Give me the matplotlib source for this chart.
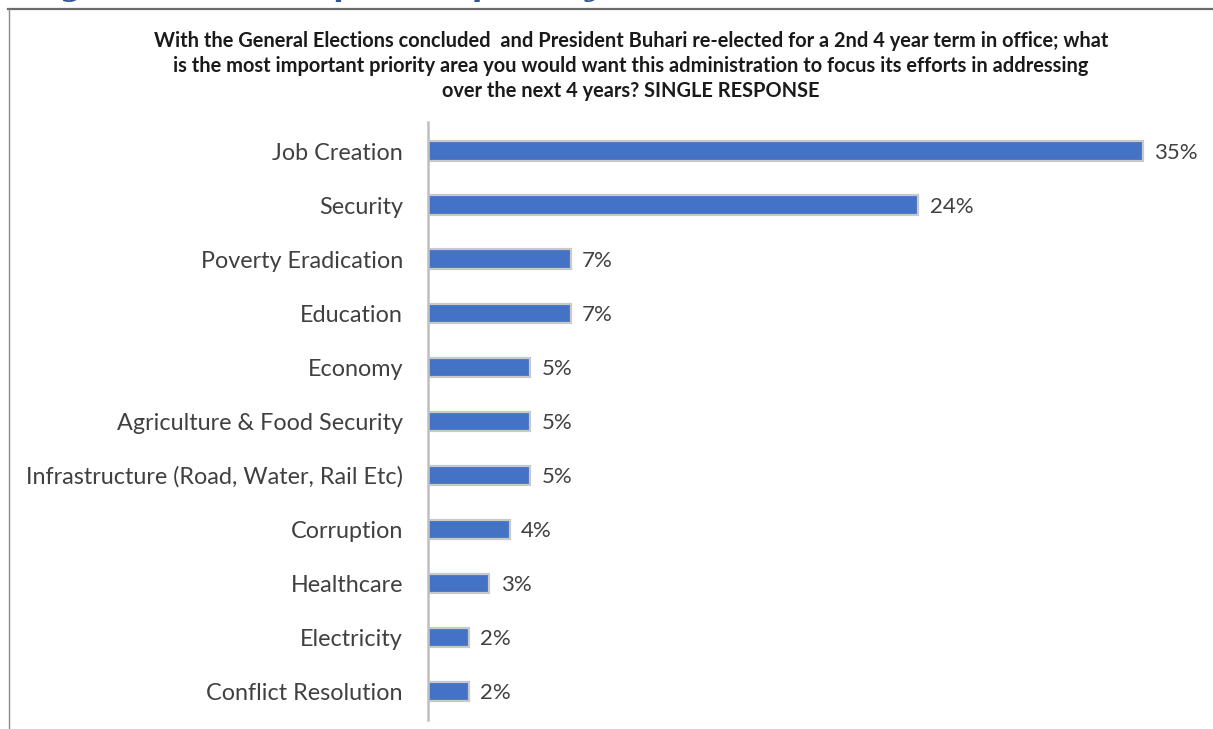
"""Horizontal bar chart of post-election priority areas."""

import matplotlib
matplotlib.use('Agg')
import matplotlib.pyplot as plt
from matplotlib.lines import Line2D


# ----------------------------------------------------------------------------
# Data

categories = [
    'Job Creation',
    'Security',
    'Poverty Eradication',
    'Education',
    'Economy',
    'Agriculture & Food Security',
    'Infrastructure (Road, Water, Rail Etc)',
    'Corruption',
    'Healthcare',
    'Electricity',
    'Conflict Resolution',
]
shares = [35, 24, 7, 7, 5, 5, 5, 4, 3, 2, 2]

question = (
    'With the General Elections concluded  and President Buhari re-elected '
    'for a 2nd 4 year term in office; what\n'
    'is the most important priority area you would want this administration '
    'to focus its efforts in addressing\n'
    'over the next 4 years? SINGLE RESPONSE'
)
caption = 'Figure 3: Most important priority areas'


# ----------------------------------------------------------------------------
# Figure

W, H = 1213, 729
fig = plt.figure(figsize=(W / 100, H / 100), dpi=100)
fig.patch.set_facecolor('white')

font = ['Lato', 'DejaVu Sans']
text_col = '#404040'


def fx(px):
    return px / W


def fy(py):
    return 1 - py / H


# frame around the chart, only top and left edges fall inside the image
fig.add_artist(Line2D([fx(8), fx(W)], [fy(8.5), fy(8.5)],
                      color='#6b6b6b', lw=1.6, transform=fig.transFigure))
fig.add_artist(Line2D([fx(8.5), fx(8.5)], [fy(8.5), 0],
                      color='#8a8a8a', lw=1.0, transform=fig.transFigure))

# caption sitting mostly above the top edge
fig.text(fx(30), fy(-4.5), caption, color='#2f5597', fontsize=22,
         family='DejaVu Serif', style='italic', fontweight='bold',
         ha='left', va='baseline')

fig.text(fx(631), fy(31), question, ha='center', va='top',
         fontsize=14.4, fontweight='bold', color='#1a1a1a',
         family=font, linespacing=1.3)

ax = fig.add_axes([fx(428), fy(720), fx(W - 428), fy(122) - fy(720)])

pos = list(range(len(categories)))
ax.barh(pos, shares, height=0.36, color='#4472c4',
        edgecolor='#c9c9c9', linewidth=1.6)

ax.set_ylim(len(categories) - 0.47, -0.54)
ax.set_xlim(0, (W - 428) / 20.43)

for p, v in zip(pos, shares):
    ax.text(v + 0.55, p, '{}%'.format(v), va='center_baseline', ha='left',
            fontsize=16, color=text_col, family=font)

ax.set_yticks(pos)
ax.set_yticklabels(categories, fontsize=16.8, color=text_col, family=font)
ax.tick_params(axis='y', length=0, pad=18)
ax.set_xticks([])

for side in ['top', 'right', 'bottom']:
    ax.spines[side].set_visible(False)
ax.spines['left'].set_color('#bfbfbf')
ax.spines['left'].set_linewidth(1.8)

fig.savefig('out.png', dpi=100)
